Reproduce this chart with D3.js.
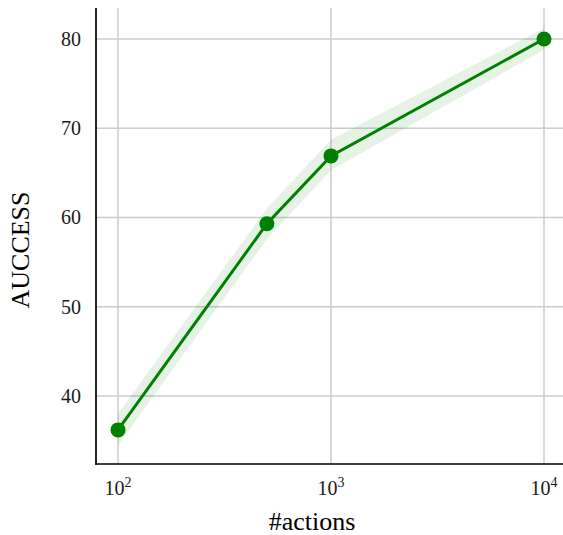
<!DOCTYPE html>
<html>
<head>
<meta charset="utf-8">
<script src="https://cdn.jsdelivr.net/npm/d3@7"></script>
<style>
  body { margin: 0; background: #fff; }
  svg { display: block; font-family: "Liberation Serif", "Times New Roman", serif; }
</style>
</head>
<body>
<div id="chart"></div>
<script>
const actions = [100, 500, 1000, 10000];
const auccess = [36.2, 59.3, 66.9, 80.0];
const lower = [34.5, 57.6, 65.3, 78.8];
const upper = [38.0, 61.0, 68.7, 81.2];
const xTicks = [100, 1000, 10000];
const yTicks = [40, 50, 60, 70, 80];

const width = 563;
const height = 535;
const plotLeft = 96, plotTop = 8, plotBottom = 464;

const x = d3.scaleLog().domain([100, 10000]).range([118, 544]);
const y = d3.scaleLinear().domain([32.38, 83.47]).range([plotBottom, plotTop]);

const svg = d3.select('#chart')
  .append('svg')
  .attr('width', width)
  .attr('height', height);

// grid
svg.append('g')
  .attr('stroke', '#cccccc')
  .attr('stroke-width', 1.5)
  .selectAll('line')
  .data(xTicks)
  .join('line')
  .attr('x1', (d) => x(d))
  .attr('x2', (d) => x(d))
  .attr('y1', plotTop)
  .attr('y2', plotBottom);
svg.append('g')
  .attr('stroke', '#cccccc')
  .attr('stroke-width', 1.5)
  .selectAll('line')
  .data(yTicks)
  .join('line')
  .attr('x1', plotLeft)
  .attr('x2', width)
  .attr('y1', (d) => y(d))
  .attr('y2', (d) => y(d));

const rows = actions.map((a, i) => ({ a, v: auccess[i], lo: lower[i], hi: upper[i] }));

// band
svg.append('path')
  .datum(rows)
  .attr('fill', 'green')
  .attr('fill-opacity', 0.1)
  .attr('d', d3.area()
    .x((d) => x(d.a))
    .y0((d) => y(d.lo))
    .y1((d) => y(d.hi)));

svg.append('path')
  .datum(rows)
  .attr('fill', 'none')
  .attr('stroke', 'green')
  .attr('stroke-width', 3)
  .attr('d', d3.line()
    .x((d) => x(d.a))
    .y((d) => y(d.v)));

svg.append('g')
  .attr('fill', 'green')
  .selectAll('circle')
  .data(rows)
  .join('circle')
  .attr('cx', (d) => x(d.a))
  .attr('cy', (d) => y(d.v))
  .attr('r', 7.5);

// spines
svg.append('line')
  .attr('x1', plotLeft).attr('x2', plotLeft)
  .attr('y1', plotTop).attr('y2', plotBottom + 0.8)
  .attr('stroke', '#000').attr('stroke-width', 1.7);
svg.append('line')
  .attr('x1', plotLeft - 0.8).attr('x2', width)
  .attr('y1', plotBottom).attr('y2', plotBottom)
  .attr('stroke', '#000').attr('stroke-width', 1.7);

// y tick labels
svg.append('g')
  .selectAll('text')
  .data(yTicks)
  .join('text')
  .attr('x', 81)
  .attr('y', (d) => y(d))
  .attr('dy', '0.35em')
  .attr('text-anchor', 'end')
  .attr('font-size', 20)
  .attr('fill', '#1a1a1a')
  .text((d) => d);

// x tick labels
const xt = svg.append('g')
  .selectAll('text')
  .data(xTicks)
  .join('text')
  .attr('x', (d) => x(d))
  .attr('y', 495)
  .attr('text-anchor', 'middle')
  .attr('font-size', 20)
  .attr('fill', '#1a1a1a');
xt.append('tspan').text('10');
xt.append('tspan')
  .attr('font-size', 14)
  .attr('dy', -8)
  .text((d) => Math.round(Math.log10(d)));

// axis labels
svg.append('text')
  .attr('x', 312)
  .attr('y', 530)
  .attr('text-anchor', 'middle')
  .attr('font-size', 26)
  .attr('fill', '#000')
  .text('#actions');
svg.append('text')
  .attr('transform', 'translate(29,250) rotate(-90)')
  .attr('text-anchor', 'middle')
  .attr('font-size', 26)
  .attr('fill', '#000')
  .text('AUCCESS');
</script>
</body>
</html>
